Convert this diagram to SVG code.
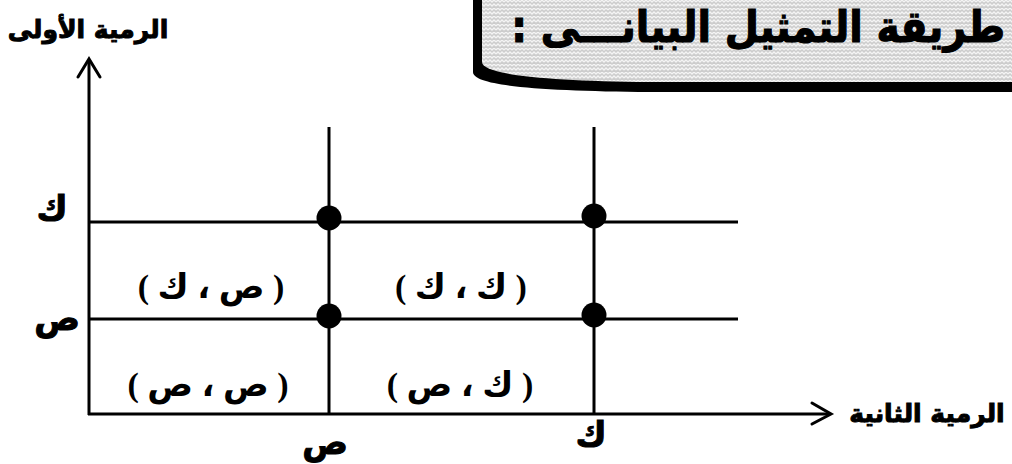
<svg xmlns="http://www.w3.org/2000/svg" width="1012" height="464" viewBox="0 0 1012 464">
<defs>
<style>
.ln{stroke:#000;stroke-width:3;fill:none}
.ar{stroke:#000;stroke-width:3;fill:none;stroke-linecap:round;stroke-linejoin:miter}
.dot{fill:#000}
.ax{font-family:"DejaVu Sans",sans-serif;font-weight:bold;font-size:25px;fill:#000;stroke:#000;stroke-width:1}
.lb{font-family:"DejaVu Sans",sans-serif;font-weight:bold;font-size:34px;fill:#000;stroke:#000;stroke-width:1}
.cell{font-family:"Liberation Serif","DejaVu Sans",serif;font-weight:bold;font-size:34px;fill:#000}
.title{font-family:"DejaVu Sans",sans-serif;font-weight:bold;font-size:44px;fill:#000;stroke:#000;stroke-width:1.2}
</style>
<pattern id="weave" width="8" height="8" patternUnits="userSpaceOnUse">
<rect width="8" height="8" fill="#cdcdcd"/>
<path d="M0,2 L2,0 L4,2 L6,0 L8,2 M0,6 L2,4 L4,6 L6,4 L8,6" stroke="#f4f4f4" stroke-width="1.3" fill="none"/>
</pattern>
</defs>
<rect width="1012" height="464" fill="#fff"/>

<g id="title-box">
<path d="M473,0 V72 C473,86 540,91 650,92 H1012 V0 Z" fill="#000"/>
<path d="M482,0 V62 C482,74 540,81 650,82 H1012 V0 Z" fill="url(#weave)"/>
<text class="title" x="0" y="0" transform="translate(1005,42) scale(0.895,1)" direction="rtl" text-anchor="start">طريقة التمثيل البيانـــى :</text>
</g>

<g id="connectors">
<line class="ln" x1="89" y1="60" x2="89" y2="415"/>
<polyline class="ar" points="78,77 89,59 100,77"/>
<line class="ln" x1="88" y1="414" x2="830" y2="414"/>
<polyline class="ar" points="812,403 831,414 812,424"/>
<line class="ln" x1="89" y1="222" x2="738" y2="222"/>
<line class="ln" x1="89" y1="319" x2="738" y2="319"/>
<line class="ln" x1="329" y1="127" x2="329" y2="414"/>
<line class="ln" x1="594" y1="127" x2="594" y2="414"/>
</g>

<g id="axis-labels">
<text id="y-label" class="ax" x="88" y="38" direction="rtl" text-anchor="middle">الرمية الأولى</text>
<text id="x-label" class="ax" x="927" y="422" direction="rtl" text-anchor="middle">الرمية الثانية</text>
<text id="y-k" class="lb" x="52" y="220" text-anchor="middle">ك</text>
<text id="y-s" class="lb" x="57" y="330" text-anchor="middle">ص</text>
<text id="x-s" class="lb" x="325" y="454" text-anchor="middle">ص</text>
<text id="x-k" class="lb" x="591" y="446" text-anchor="middle">ك</text>
</g>

<g id="dot-s-k"><circle class="dot" cx="329" cy="218" r="12.5"/></g>
<g id="dot-k-k"><circle class="dot" cx="594" cy="216" r="12.5"/></g>
<g id="dot-s-s"><circle class="dot" cx="329" cy="316" r="12.5"/></g>
<g id="dot-k-s"><circle class="dot" cx="594" cy="315" r="12.5"/></g>

<g id="cell-tl"><text class="cell" x="211" y="298" direction="rtl" text-anchor="middle">( ص ، ك )</text></g>
<g id="cell-tr"><text class="cell" x="461" y="298" direction="rtl" text-anchor="middle">( ك ، ك )</text></g>
<g id="cell-bl"><text class="cell" x="208" y="396" direction="rtl" text-anchor="middle">( ص ، ص )</text></g>
<g id="cell-br"><text class="cell" x="460" y="396" direction="rtl" text-anchor="middle">( ك ، ص )</text></g>
</svg>
